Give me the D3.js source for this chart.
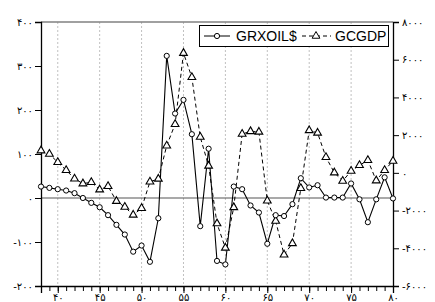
<!DOCTYPE html>
<html><head><meta charset="utf-8">
<script src="https://cdn.jsdelivr.net/npm/d3@7"></script>
<style>
html,body{margin:0;padding:0;background:#fff;}
svg{display:block;}
</style></head>
<body>
<svg id="c" width="435" height="302"></svg>
<script>
const years = d3.range(38, 81);
const grxoil = [26,23,20,17,11,0,-11,-21,-39,-61,-83,-122,-108,-145,-46,323,192,223,145,-64,112,-143,-151,26,20,-17,-33,-104,-39,-41,-14,45,24,29,1,1,1,33,-3,-55,-3,47,-1];
const gcgdp = [1180,1000,560,140,-310,-570,-500,-890,-710,-1500,-1810,-2230,-1880,-470,-320,1440,2580,6350,5070,1900,370,-2690,-3980,-1830,2060,2200,2170,-1480,-2550,-4340,-3740,-820,2250,2120,830,10,-430,100,400,670,-410,140,630];
const leftTicks = [-200,-100,0,100,200,300,400];
const leftLabels = ["-۲۰۰","-۱۰۰","۰","۱۰۰","۲۰۰","۳۰۰","۴۰۰"];
const rightTicks = [-6000,-4000,-2000,0,2000,4000,6000,8000];
const rightLabels = ["-۶۰۰۰","-۴۰۰۰","-۲۰۰۰","۰","۲۰۰۰","۴۰۰۰","۶۰۰۰","۸۰۰۰"];
const xTicks = [40,45,50,55,60,65,70,75,80];
const xLabels = ["۴۰","۴۵","۵۰","۵۵","۶۰","۶۵","۷۰","۷۵","۸۰"];
const seriesNames = ["GRXOIL$","GCGDP"];

const L = 41, R = 393, T = 22, B = 286;
const svg = d3.select("#c");
const x = d3.scaleLinear().domain([38, 80]).range([L, R]);
const yL = d3.scaleLinear().domain([-200, 400]).range([B, T]);
const yR = d3.scaleLinear().domain([-6000, 8000]).range([B, T]);
const tickFont = "DejaVu Sans";

// grid lines
svg.append("g").selectAll("line").data(xTicks.filter(d => d < 80)).join("line")
  .attr("x1", d => x(d)).attr("x2", d => x(d)).attr("y1", T).attr("y2", B)
  .attr("stroke", "#c0c0c0").attr("stroke-width", 1).attr("stroke-dasharray", "2,2");

// top border
svg.append("line").attr("x1", L).attr("x2", R).attr("y1", T).attr("y2", T)
  .attr("stroke", "#808080").attr("stroke-width", 1.5);
// zero line
svg.append("line").attr("x1", L).attr("x2", R).attr("y1", yL(0)).attr("y2", yL(0))
  .attr("stroke", "#555").attr("stroke-width", 1.2);

// left axis
const gl = svg.append("g").attr("transform", `translate(${L},0)`)
  .call(d3.axisLeft(yL).tickValues(leftTicks).tickSize(6).tickPadding(2)
    .tickFormat((d, i) => leftLabels[i]));
// right axis
const gr = svg.append("g").attr("transform", `translate(${R},0)`)
  .call(d3.axisRight(yR).tickValues(rightTicks).tickSize(6).tickPadding(3)
    .tickFormat((d, i) => rightLabels[i]));
// bottom axis minor
const gbm = svg.append("g").attr("transform", `translate(0,${B})`)
  .call(d3.axisBottom(x).tickValues(years).tickSize(5).tickFormat(""));
gbm.select(".domain").remove();
const gb = svg.append("g").attr("transform", `translate(0,${B})`)
  .call(d3.axisBottom(x).tickValues(xTicks).tickSize(7).tickPadding(1)
    .tickFormat((d, i) => xLabels[i]));
[gl, gr, gb, gbm].forEach(g => {
  g.selectAll("text").attr("font-family", tickFont).attr("font-size", 10)
    .attr("fill", "#000").attr("direction", "ltr");
  g.selectAll("line").attr("stroke", "#000");
  g.select(".domain").attr("stroke", "#000").attr("stroke-width", 1.3);
});

// lines
const lineL = d3.line().x((d, i) => x(years[i])).y(d => yL(d));
const lineR = d3.line().x((d, i) => x(years[i])).y(d => yR(d));
svg.append("path").datum(gcgdp).attr("d", lineR).attr("fill", "none")
  .attr("stroke", "#000").attr("stroke-width", 1).attr("stroke-dasharray", "4,3");
svg.append("path").datum(grxoil).attr("d", lineL).attr("fill", "none")
  .attr("stroke", "#000").attr("stroke-width", 1.1);

const tri = d3.symbol().type(d3.symbolTriangle).size(26);
svg.append("g").selectAll("path").data(gcgdp).join("path")
  .attr("d", tri).attr("transform", (d, i) => `translate(${x(years[i])},${yR(d)})`)
  .attr("fill", "#fff").attr("stroke", "#000").attr("stroke-width", 1.1);
svg.append("g").selectAll("circle").data(grxoil).join("circle")
  .attr("cx", (d, i) => x(years[i])).attr("cy", d => yL(d)).attr("r", 2.6)
  .attr("fill", "#fff").attr("stroke", "#000").attr("stroke-width", 1);

// legend
const lg = svg.append("g");
lg.append("rect").attr("x", 199.5).attr("y", 25.5).attr("width", 189).attr("height", 21)
  .attr("fill", "#fff").attr("stroke", "#000").attr("stroke-width", 1);
lg.append("line").attr("x1", 204).attr("x2", 230).attr("y1", 36).attr("y2", 36)
  .attr("stroke", "#000");
lg.append("circle").attr("cx", 217).attr("cy", 36).attr("r", 2.6)
  .attr("fill", "#fff").attr("stroke", "#000");
lg.append("text").attr("x", 236).attr("y", 41).text(seriesNames[0])
  .attr("font-family", "Liberation Sans").attr("font-size", 14);
lg.append("line").attr("x1", 302).attr("x2", 331).attr("y1", 36).attr("y2", 36)
  .attr("stroke", "#000").attr("stroke-dasharray", "4,3");
lg.append("path").attr("d", tri).attr("transform", "translate(316,36)")
  .attr("fill", "#fff").attr("stroke", "#000");
lg.append("text").attr("x", 335).attr("y", 41).text(seriesNames[1])
  .attr("font-family", "Liberation Sans").attr("font-size", 14);
</script>
</body></html>
